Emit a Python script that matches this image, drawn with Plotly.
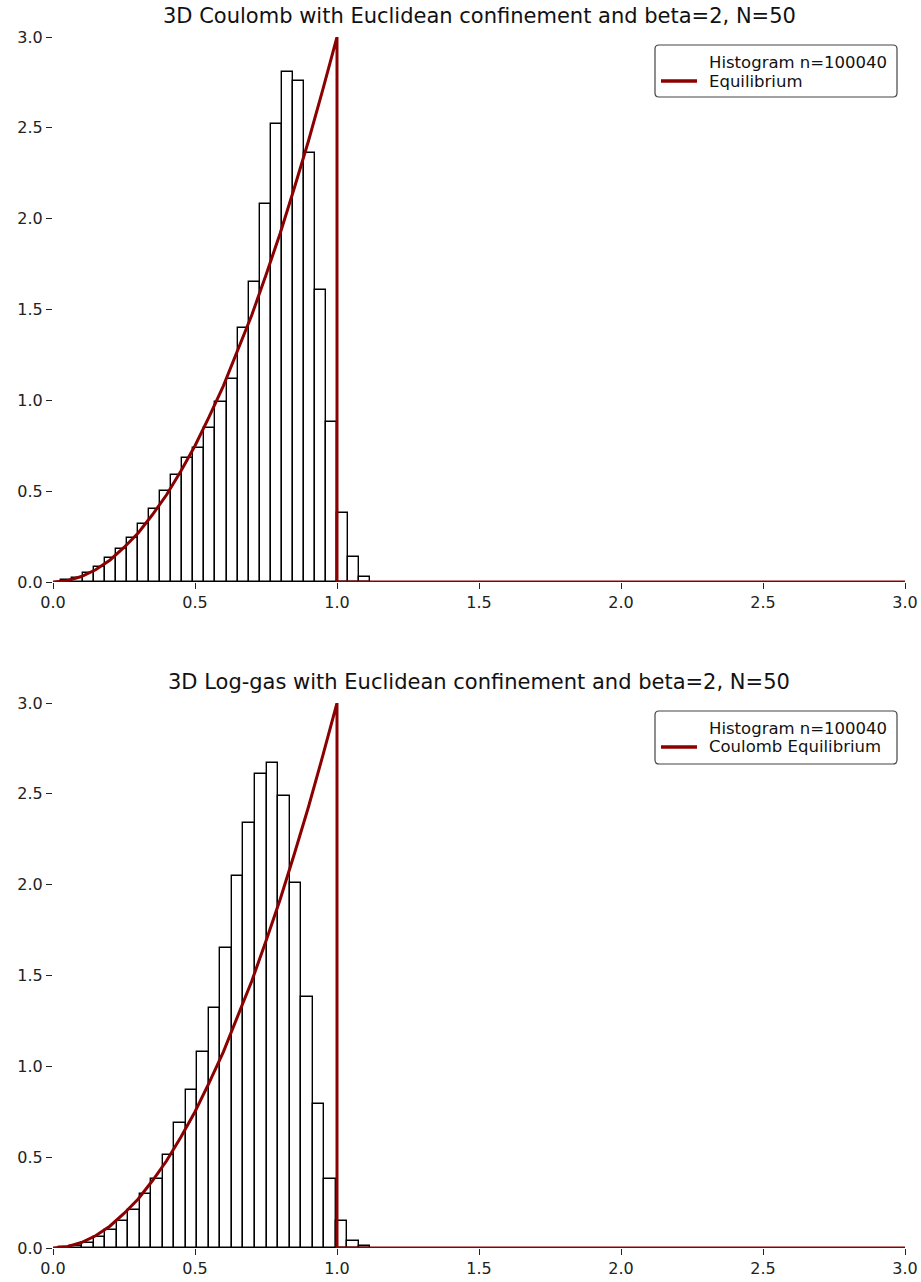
import plotly.graph_objects as go

# ---------------- data ----------------
top_title = "3D Coulomb with Euclidean confinement and beta=2, N=50"
bot_title = "3D Log-gas with Euclidean confinement and beta=2, N=50"
top_hist_label = "Histogram n=100040"
top_curve_label = "Equilibrium"
bot_hist_label = "Histogram n=100040"
bot_curve_label = "Coulomb Equilibrium"

# histogram bins: first edge and bin width, then bar heights (density)
top_bin_start = 0.0275
top_bin_width = 0.0389
top_heights = [0.01, 0.02, 0.05, 0.08, 0.13, 0.18, 0.24, 0.32, 0.40, 0.50,
               0.59, 0.68, 0.74, 0.85, 0.99, 1.12, 1.40, 1.65, 2.08, 2.52,
               2.81, 2.76, 2.36, 1.61, 0.88, 0.38, 0.14, 0.03]

bot_bin_start = 0.021
bot_bin_width = 0.0406
bot_heights = [0.005, 0.01, 0.03, 0.06, 0.10, 0.15, 0.21, 0.30, 0.38, 0.51,
               0.69, 0.87, 1.08, 1.32, 1.65, 2.05, 2.34, 2.61, 2.67, 2.49,
               2.01, 1.38, 0.79, 0.38, 0.15, 0.04, 0.01]

# equilibrium curve (same in both panels)
curve_x = [0.0, 0.05, 0.10, 0.15, 0.20, 0.25, 0.30, 0.35, 0.40, 0.45, 0.50,
           0.55, 0.60, 0.65, 0.70, 0.75, 0.80, 0.85, 0.90, 0.95, 1.0, 1.0, 3.0]
curve_y = [0.0, 0.0075, 0.03, 0.0675, 0.12, 0.19, 0.27, 0.37, 0.48, 0.61, 0.75,
           0.91, 1.08, 1.27, 1.47, 1.69, 1.92, 2.17, 2.43, 2.71, 3.0, 0.0, 0.0]

x_ticks = [0.0, 0.5, 1.0, 1.5, 2.0, 2.5, 3.0]
y_ticks = [0.0, 0.5, 1.0, 1.5, 2.0, 2.5, 3.0]
tick_labels = ["0.0", "0.5", "1.0", "1.5", "2.0", "2.5", "3.0"]

# ---------------- figure ----------------
W, H = 921, 1282
L, R, T, B = 53, 905, 37, 1248
FONT = "DejaVu Sans"
RED = "#8b0000"

def px(xp):
    """window x pixel -> paper x"""
    return (xp - L) / (R - L)

def py(yp):
    """window y pixel -> paper y"""
    return (B - yp) / (B - T)

fig = go.Figure()

def add_panel(start, width, heights, xa, ya):
    centers = [start + (i + 0.5) * width for i in range(len(heights))]
    fig.add_trace(go.Bar(
        x=centers, y=heights, width=width,
        marker=dict(color="white", line=dict(color="black", width=1.4)),
        xaxis=xa, yaxis=ya, showlegend=False, cliponaxis=False,
        hoverinfo="skip"))
    fig.add_trace(go.Scatter(
        x=curve_x, y=curve_y, mode="lines",
        line=dict(color=RED, width=3),
        xaxis=xa, yaxis=ya, showlegend=False, cliponaxis=False,
        hoverinfo="skip"))

add_panel(top_bin_start, top_bin_width, top_heights, "x", "y")
add_panel(bot_bin_start, bot_bin_width, bot_heights, "x2", "y2")

axis_common = dict(showgrid=False, zeroline=False, showline=False,
                   ticks="outside", ticklen=6, tickwidth=1.3, tickcolor="#222",
                   tickfont=dict(family=FONT, size=16, color="#222"),
                   automargin=False, fixedrange=True)

fig.update_layout(
    width=W, height=H,
    margin=dict(l=L, r=W - R, t=T, b=H - B, autoexpand=False),
    paper_bgcolor="white", plot_bgcolor="white",
    bargap=0,
    xaxis=dict(domain=[0, 1], range=[0, 3], anchor="y",
               tickvals=x_ticks, ticktext=tick_labels, **axis_common),
    yaxis=dict(domain=[py(582), 1], range=[0, 3], anchor="x",
               tickvals=y_ticks, ticktext=tick_labels, **axis_common),
    xaxis2=dict(domain=[0, 1], range=[0, 3], anchor="y2",
                tickvals=x_ticks, ticktext=tick_labels, **axis_common),
    yaxis2=dict(domain=[0, py(703)], range=[0, 3], anchor="x2",
                tickvals=y_ticks, ticktext=tick_labels, **axis_common),
)

annotations = []
shapes = []

# titles
for title, yc in [(top_title, 16), (bot_title, 682)]:
    annotations.append(dict(text=title, xref="paper", yref="paper",
                            x=0.5, y=py(yc), xanchor="center", yanchor="middle",
                            showarrow=False,
                            font=dict(family=FONT, size=21, color="#111")))

def rounded_rect(x0, y0, x1, y1, r=4):
    pts = [
        ("M", [(x0 + r, y0)]),
        ("L", [(x1 - r, y0)]),
        ("Q", [(x1, y0), (x1, y0 + r)]),
        ("L", [(x1, y1 - r)]),
        ("Q", [(x1, y1), (x1 - r, y1)]),
        ("L", [(x0 + r, y1)]),
        ("Q", [(x0, y1), (x0, y1 - r)]),
        ("L", [(x0, y0 + r)]),
        ("Q", [(x0, y0), (x0 + r, y0)]),
    ]
    s = ""
    for cmd, plist in pts:
        s += cmd + " " + " ".join(f"{px(a):.5f},{py(b):.5f}" for a, b in plist) + " "
    return s + "Z"

def add_legend(box, row1, row2, lab1, lab2):
    x0, y0, x1, y1 = box
    shapes.append(dict(type="path", xref="paper", yref="paper",
                       path=rounded_rect(x0, y0, x1, y1),
                       line=dict(color="#444", width=1.2),
                       fillcolor="rgba(255,255,255,0.85)", layer="above"))
    shapes.append(dict(type="line", xref="paper", yref="paper",
                       x0=px(661), x1=px(697), y0=py(row2), y1=py(row2),
                       line=dict(color=RED, width=3.5), layer="above"))
    for lab, yc in [(lab1, row1), (lab2, row2)]:
        annotations.append(dict(text=lab, xref="paper", yref="paper",
                                x=px(707), y=py(yc), xanchor="left",
                                yanchor="middle", showarrow=False,
                                font=dict(family=FONT, size=16.5, color="#111")))

add_legend((655, 45, 897, 97), 62, 81, top_hist_label, top_curve_label)
add_legend((655, 711, 897, 764), 728, 747, bot_hist_label, bot_curve_label)

fig.update_layout(annotations=annotations, shapes=shapes)

fig.write_html("out.html",
               config={"displayModeBar": False},
               post_script="document.body.style.margin='0px';"
                           "document.body.style.overflow='hidden';")
